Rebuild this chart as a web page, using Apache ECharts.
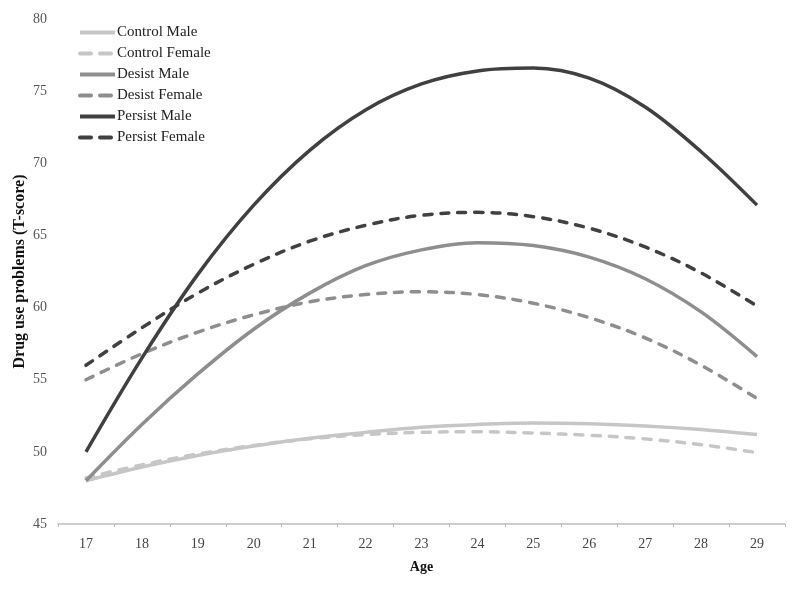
<!DOCTYPE html>
<html>
<head>
<meta charset="utf-8">
<script src="https://cdn.jsdelivr.net/npm/echarts@6/dist/echarts.min.js"></script>
<style>html,body{margin:0;padding:0;background:#fff}#c{width:800px;height:589px}</style>
</head>
<body>
<div id="c"></div>
<script>
const ages = ['17','18','19','20','21','22','23','24','25','26','27','28','29'];
const controlMale   = [48.0, 48.95, 49.75, 50.4, 50.95, 51.35, 51.7, 51.9, 52.0, 51.95, 51.8, 51.55, 51.2];
const controlFemale = [48.2, 49.1, 49.85, 50.45, 50.9, 51.2, 51.35, 51.4, 51.3, 51.15, 50.9, 50.5, 49.95];
const desistMale    = [48.0, 51.9, 55.4, 58.5, 61.0, 62.9, 64.0, 64.5, 64.3, 63.5, 62.0, 59.7, 56.6];
const desistFemale  = [55.0, 56.8, 58.3, 59.5, 60.4, 60.9, 61.1, 60.9, 60.3, 59.3, 57.9, 56.0, 53.7];
const persistMale   = [50.0, 56.5, 62.3, 67.1, 70.9, 73.7, 75.5, 76.4, 76.6, 75.9, 73.9, 70.8, 67.1];
const persistFemale = [56.0, 58.6, 61.0, 63.0, 64.6, 65.7, 66.4, 66.6, 66.3, 65.5, 64.2, 62.4, 60.1];
const yTicks = [45, 50, 55, 60, 65, 70, 75, 80];
const seriesNames = ['Control Male', 'Control Female', 'Desist Male', 'Desist Female', 'Persist Male', 'Persist Female'];

const serif = '"Liberation Serif", "DejaVu Serif", serif';
const cLight = '#c6c6c6', cMid = '#8e8e8e', cDark = '#404040';
function mk(name, data, color, dashed) {
  return {
    name, type: 'line', data, smooth: 0.35, symbol: 'none', showSymbol: false,
    lineStyle: { color, width: 3.5, type: dashed ? [8, 9] : 'solid', cap: dashed ? 'round' : 'butt' },
    itemStyle: { color }
  };
}
const chart = echarts.init(document.getElementById('c'), null, { renderer: 'canvas' });
chart.setOption({
  animation: false,
  backgroundColor: '#fff',
  grid: { left: 58, right: 15, top: 19, bottom: 65, outerBoundsMode: 'none', containLabel: false },
  legend: {
    orient: 'vertical', left: 73, top: 20, itemWidth: 35, itemHeight: 12, itemGap: 6,
    itemStyle: { color: 'rgba(0,0,0,0)', borderWidth: 0, opacity: 0 },
    lineStyle: { width: 4 },
    textStyle: { fontFamily: serif, fontSize: 15, color: '#222', padding: [0, 0, 0, -3] },
    data: seriesNames.map((n, i) => (i % 2 === 1 ? { name: n, lineStyle: { type: [11, 9], width: 4 } } : { name: n, lineStyle: { width: 4 } }))
  },
  xAxis: {
    type: 'category', data: ages, boundaryGap: true,
    name: 'Age', nameLocation: 'middle', nameGap: 36, nameMoveOverlap: false,
    nameTextStyle: { fontFamily: serif, fontSize: 14, fontWeight: 'bold', color: '#111' },
    axisLine: { lineStyle: { color: '#bdbdbd', width: 1.5 } },
    axisTick: { show: true, alignWithLabel: false, length: 3, lineStyle: { color: '#bdbdbd' } },
    axisLabel: { fontFamily: serif, fontSize: 14, color: '#444', margin: 13 }
  },
  yAxis: {
    type: 'value', min: yTicks[0], max: yTicks[yTicks.length - 1], interval: 5,
    name: 'Drug use problems (T-score)', nameLocation: 'middle', nameGap: 30, nameMoveOverlap: false,
    nameTextStyle: { fontFamily: serif, fontSize: 16, fontWeight: 'bold', color: '#111' },
    axisLine: { show: false }, axisTick: { show: false }, splitLine: { show: false },
    axisLabel: { fontFamily: serif, fontSize: 14, color: '#555', margin: 11 }
  },
  series: [
    mk(seriesNames[0], controlMale, cLight, false),
    mk(seriesNames[1], controlFemale, cLight, true),
    mk(seriesNames[2], desistMale, cMid, false),
    mk(seriesNames[3], desistFemale, cMid, true),
    mk(seriesNames[4], persistMale, cDark, false),
    mk(seriesNames[5], persistFemale, cDark, true)
  ]
});
</script>
</body>
</html>
